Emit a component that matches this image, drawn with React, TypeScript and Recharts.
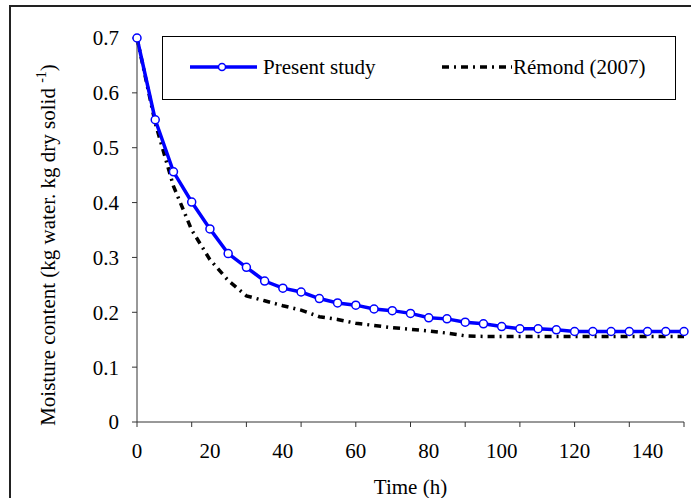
import React from 'react';
import { LineChart, Line, XAxis, YAxis, Legend, Label } from 'recharts';

// drying time (h)
const times = [0, 5, 10, 15, 20, 25, 30, 35, 40, 45, 50, 55, 60, 65, 70, 75, 80, 85, 90, 95, 100, 105, 110, 115, 120, 125, 130, 135, 140, 145, 150];
// moisture content, present study
const present = [0.7, 0.551, 0.456, 0.401, 0.352, 0.307, 0.282, 0.257, 0.244, 0.237, 0.225, 0.217, 0.213, 0.206, 0.203, 0.198, 0.19, 0.188, 0.182, 0.179, 0.174, 0.17, 0.17, 0.168, 0.165, 0.165, 0.165, 0.165, 0.165, 0.165, 0.165];
// moisture content, Rémond (2007)
const remond = [0.7, 0.545, 0.43, 0.35, 0.296, 0.258, 0.23, 0.221, 0.212, 0.204, 0.192, 0.187, 0.18, 0.176, 0.172, 0.169, 0.166, 0.162, 0.157, 0.156, 0.156, 0.156, 0.156, 0.156, 0.156, 0.156, 0.156, 0.156, 0.156, 0.156, 0.156];

const xTickMarks = [0, 15, 30, 45, 60, 75, 90, 105, 120, 135, 150];
const xTickLabels = [0, 20, 40, 60, 80, 100, 120, 140];
const yTicks = [0, 0.1, 0.2, 0.3, 0.4, 0.5, 0.6, 0.7];

const seriesNames = { present: 'Present study', remond: 'Rémond (2007)' };

const FONT = 'Liberation Serif, Times New Roman, serif';
const BLUE = '#0000FF';
const DASH = '7 5 2 5';

const data = times.map((t, i) => ({ t, present: present[i], remond: remond[i] }));
// every position that needs a tick mark or a label
const xTicks = Array.from(new Set([...xTickMarks, ...xTickLabels])).sort((a, b) => a - b);

const textStyle = { fontFamily: FONT, fontSize: 21 };

function XTick(props: any) {
  const { x, y, payload } = props;
  const v = payload.value;
  return (
    <g>
      {xTickMarks.includes(v) && <line x1={x} x2={x} y1={y} y2={y + 5} stroke="#333" strokeWidth={1} />}
      {xTickLabels.includes(v) && (
        <text x={x} y={y + 36} textAnchor="middle" style={textStyle} fill="#000">
          {v}
        </text>
      )}
    </g>
  );
}

function LegendBox(props: any) {
  const items = props.payload || [];
  const p = items.find((it: any) => it.dataKey === 'present');
  const r = items.find((it: any) => it.dataKey === 'remond');
  return (
    <div style={{ width: 514, height: 64, border: '1px solid #000', background: '#fff', boxSizing: 'border-box' }}>
      <svg width={512} height={62} style={{ display: 'block' }}>
        <line x1={27} x2={94} y1={30} y2={30} stroke={p?.color || BLUE} strokeWidth={3.5} />
        <circle cx={59} cy={30} r={3.5} fill="#fff" stroke={p?.color || BLUE} strokeWidth={1.5} />
        <text x={100} y={37} style={textStyle} fill="#000">{seriesNames.present}</text>
        <line x1={279} x2={349} y1={30} y2={30} stroke={r?.color || '#000'} strokeWidth={3.5} strokeDasharray={DASH} />
        <text x={350} y={37} style={textStyle} fill="#000">{seriesNames.remond}</text>
      </svg>
    </div>
  );
}

function YTitle() {
  const cx = 55;
  const cy = 245;
  return (
    <text x={cx} y={cy} transform={`rotate(-90, ${cx}, ${cy})`} textAnchor="middle" style={textStyle} fill="#000">
      Moisture content (kg water. kg dry solid <tspan style={{ fontSize: 14 }} dy={-9}>-1</tspan><tspan dy={9}>)</tspan>
    </text>
  );
}

export default function App() {
  return (
    <div style={{ position: 'absolute', left: 0, top: 0, width: 691, height: 498, background: '#fff', overflow: 'hidden', fontFamily: FONT }}>
      <div style={{ position: 'absolute', left: 9, top: 5, width: 700, height: 520, borderLeft: '2px solid #222', borderTop: '2px solid #222' }} />
      <LineChart width={691} height={498} data={data} margin={{ top: 38, right: 7, left: 57, bottom: 0 }} style={{ fontFamily: FONT }}>
        <XAxis
          dataKey="t"
          type="number"
          domain={[0, 150]}
          ticks={xTicks}
          interval={0}
          tick={<XTick />}
          tickLine={false}
          tickSize={0}
          tickMargin={0}
          height={76}
          stroke="#333"
        >
          <Label value="Time (h)" position="insideBottom" offset={4} style={textStyle} fill="#000" />
        </XAxis>
        <YAxis
          type="number"
          domain={[0, 0.7]}
          ticks={yTicks}
          interval={0}
          width={80}
          tickSize={5}
          tickMargin={13}
          stroke="#333"
          tick={{ style: textStyle, fill: '#000' }}
          tickFormatter={(v: number) => (v === 0 ? '0' : v.toFixed(1))}
        >
          <Label content={<YTitle />} />
        </YAxis>
        <Legend
          layout="horizontal"
          verticalAlign="middle"
          align="center"
          content={<LegendBox />}
          wrapperStyle={{ left: 162, top: 36, width: 514, height: 64 }}
        />
        <Line
          dataKey="remond"
          name={seriesNames.remond}
          type="linear"
          stroke="#000"
          strokeWidth={3.5}
          strokeDasharray={DASH}
          dot={false}
          activeDot={false}
          isAnimationActive={false}
        />
        <Line
          dataKey="present"
          name={seriesNames.present}
          type="linear"
          stroke={BLUE}
          strokeWidth={3.5}
          dot={{ r: 4, fill: '#fff', stroke: BLUE, strokeWidth: 1.5 }}
          activeDot={false}
          isAnimationActive={false}
        />
      </LineChart>
    </div>
  );
}
